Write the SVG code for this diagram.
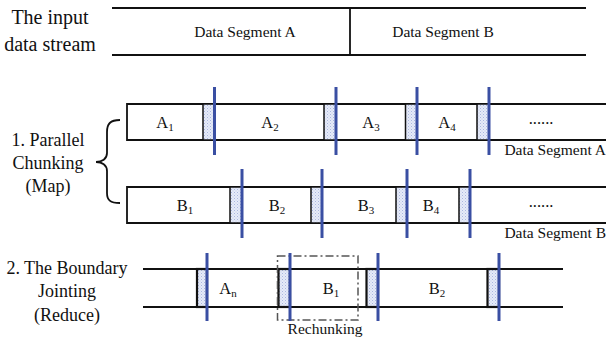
<svg xmlns="http://www.w3.org/2000/svg" width="606" height="344" viewBox="0 0 606 344" font-family="Liberation Serif, DejaVu Serif, serif">
<defs>
<pattern id="hatch" width="3" height="3" patternUnits="userSpaceOnUse">
<rect width="3" height="3" fill="#e6ebf8"/>
<rect x="0" y="0" width="1" height="1" fill="#aab6e0"/>
<rect x="1.5" y="1.5" width="1" height="1" fill="#c0caea"/>
</pattern>
<style>
text{font-family:"Liberation Serif","DejaVu Serif",serif;fill:#111}
.lbl{font-size:18px;text-anchor:middle}
.seg{font-size:15.5px}
.cell{font-size:16.5px;text-anchor:middle}
.sub{font-size:11px}
.ln{stroke:#111;stroke-width:1.8;fill:none}
.hb{fill:url(#hatch);stroke:#111;stroke-width:1.5}
.hb2{fill:url(#hatch);stroke:#111;stroke-width:2.2}
.bl{stroke:#3a4fa3;stroke-width:3}
</style>
</defs>
<rect width="606" height="344" fill="#fff"/>

<g id="input-stream">
<text class="lbl" x="50" y="24" style="font-size:20px">The input</text>
<text class="lbl" x="50" y="51" style="font-size:20px">data stream</text>
<line class="ln" x1="112" y1="8" x2="586" y2="8"/>
<line class="ln" x1="112" y1="55" x2="586" y2="55"/>
<line class="ln" x1="350" y1="8" x2="350" y2="55"/>
<text class="seg" x="245" y="37" text-anchor="middle">Data Segment A</text>
<text class="seg" x="443" y="37" text-anchor="middle">Data Segment B</text>
</g>

<g id="map-label">
<text class="lbl" x="48" y="146">1. Parallel</text>
<text class="lbl" x="48" y="169">Chunking</text>
<text class="lbl" x="48" y="192">(Map)</text>
<path class="ln" d="M120 120 C110 120 107 124 107 132 L107 153 C107 159 102 162 96 162 C102 162 107 165 107 171 L107 193 C107 200 110 203 120 203"/>
</g>

<g id="row-a">
<path class="ln" d="M607 104 L127 104 L127 140 L607 140"/>
<rect class="hb" x="203" y="104" width="11.5" height="36"/>
<rect class="hb" x="324" y="104" width="12" height="36"/>
<rect class="hb" x="405.5" y="104" width="11.5" height="36"/>
<rect class="hb" x="477" y="104" width="12" height="36"/>
<text class="cell" x="165" y="128">A<tspan class="sub" dy="3">1</tspan></text>
<text class="cell" x="270" y="128">A<tspan class="sub" dy="3">2</tspan></text>
<text class="cell" x="371" y="128">A<tspan class="sub" dy="3">3</tspan></text>
<text class="cell" x="447" y="128">A<tspan class="sub" dy="3">4</tspan></text>
<text class="cell" x="541" y="124">......</text>
<text class="seg" x="606" y="155" text-anchor="end">Data Segment A</text>
</g>

<g id="row-b">
<path class="ln" d="M607 187 L127 187 L127 223 L607 223"/>
<rect class="hb" x="230" y="187" width="12" height="36"/>
<rect class="hb" x="311" y="187" width="11" height="36"/>
<rect class="hb" x="396" y="187" width="11" height="36"/>
<rect class="hb" x="459" y="187" width="11" height="36"/>
<text class="cell" x="185" y="211">B<tspan class="sub" dy="3">1</tspan></text>
<text class="cell" x="277" y="211">B<tspan class="sub" dy="3">2</tspan></text>
<text class="cell" x="366" y="211">B<tspan class="sub" dy="3">3</tspan></text>
<text class="cell" x="431" y="211">B<tspan class="sub" dy="3">4</tspan></text>
<text class="cell" x="541" y="207">......</text>
<text class="seg" x="606" y="238" text-anchor="end">Data Segment B</text>
</g>

<g id="reduce-label">
<text class="lbl" x="67" y="274">2. The Boundary</text>
<text class="lbl" x="67" y="297">Jointing</text>
<text class="lbl" x="67" y="321">(Reduce)</text>
</g>

<g id="row-join">
<line class="ln" x1="143" y1="269" x2="563" y2="269"/>
<line class="ln" x1="143" y1="307" x2="563" y2="307"/>
<rect class="hb2" x="197" y="269" width="10" height="38"/>
<rect class="hb2" x="278.5" y="269" width="11.5" height="38"/>
<rect class="hb2" x="366.5" y="269" width="11.5" height="38"/>
<rect class="hb2" x="487.5" y="269" width="11.5" height="38"/>
<text class="cell" x="228" y="294">A<tspan class="sub" dy="3">n</tspan></text>
<text class="cell" x="331" y="294">B<tspan class="sub" dy="3">1</tspan></text>
<text class="cell" x="437" y="294">B<tspan class="sub" dy="3">2</tspan></text>
</g>

<g id="rechunk">
<rect x="277.5" y="256" width="80.5" height="64" fill="none" stroke="#555" stroke-width="1.5" stroke-dasharray="8 3 2 3"/>
<text class="seg" x="325" y="334" text-anchor="middle">Rechunking</text>
</g>

<g id="connectors">
<line class="bl" x1="214.5" y1="87" x2="214.5" y2="155"/>
<line class="bl" x1="336" y1="87" x2="336" y2="155"/>
<line class="bl" x1="417" y1="87" x2="417" y2="155"/>
<line class="bl" x1="489" y1="87" x2="489" y2="155"/>
<line class="bl" x1="242" y1="169" x2="242" y2="238"/>
<line class="bl" x1="322" y1="169" x2="322" y2="238"/>
<line class="bl" x1="407" y1="169" x2="407" y2="238"/>
<line class="bl" x1="470" y1="169" x2="470" y2="238"/>
<line class="bl" x1="207" y1="253" x2="207" y2="321"/>
<line class="bl" x1="290" y1="253" x2="290" y2="321"/>
<line class="bl" x1="378" y1="253" x2="378" y2="321"/>
<line class="bl" x1="499" y1="253" x2="499" y2="321"/>
</g>
</svg>
